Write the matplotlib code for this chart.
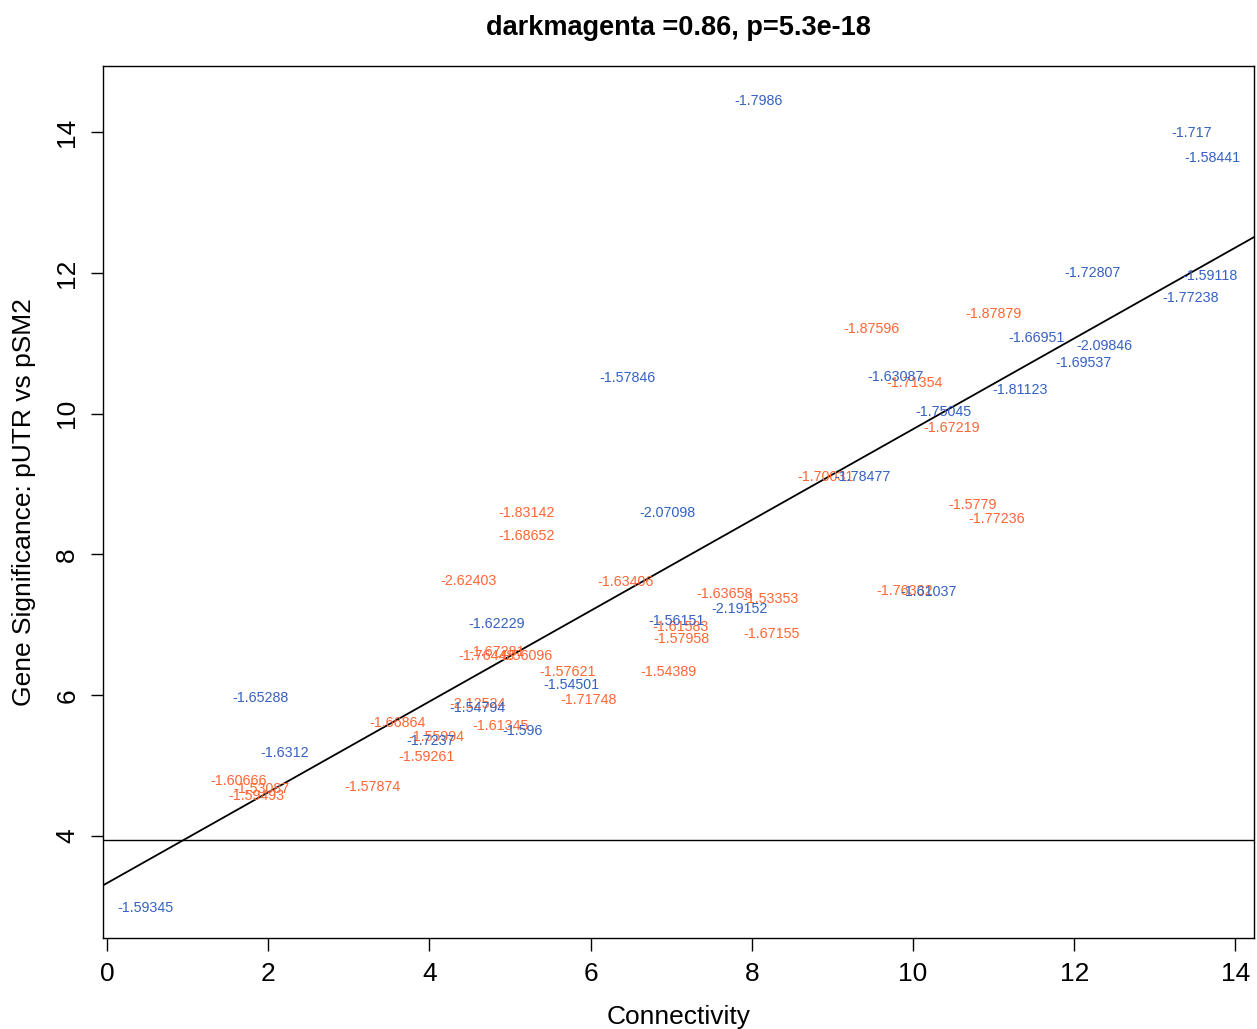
import matplotlib
matplotlib.use("Agg")
import matplotlib.pyplot as plt
import numpy as np

plt.rcParams['font.family'] = ['Liberation Sans', 'DejaVu Sans']

title = "darkmagenta =0.86, p=5.3e-18"
xlabel = "Connectivity"
ylabel = "Gene Significance: pUTR vs pSM2"

blue_labels = ["-1.7986", "-1.717", "-1.58441", "-1.72807", "-1.59118", "-1.77238",
               "-1.66951", "-2.09846", "-1.69537", "-1.81123", "-1.63087", "-1.75045",
               "-1.57846", "-1.78477", "-2.07098", "-1.61037", "-2.19152", "-1.56151",
               "-1.62229", "-1.54501", "-1.54794", "-1.596", "-1.7237", "-1.65288",
               "-1.6312", "-1.59345"]
blue_x = [8.08, 13.46, 13.72, 12.23, 13.68, 13.44, 11.53, 12.38, 12.11, 11.33, 9.78, 10.38,
          6.46, 9.37, 6.95, 10.19, 7.85, 7.07, 4.83, 5.76, 4.59, 5.16, 4.02, 1.91, 2.21, 0.48]
blue_y = [14.44, 13.99, 13.63, 12.00, 11.95, 11.64, 11.07, 10.96, 10.72, 10.34, 10.52, 10.02,
          10.51, 9.10, 8.59, 7.47, 7.22, 7.05, 7.01, 6.14, 5.82, 5.49, 5.35, 5.96, 5.18, 2.98]

orange_labels = ["-1.87596", "-1.87879", "-1.71354", "-1.67219", "-1.70031", "-1.5779",
                 "-1.77236", "-1.83142", "-1.68652", "-2.62403", "-1.63406", "-1.63658",
                 "-1.53353", "-1.76332", "-1.61583", "-1.57958", "-1.67155", "-1.54389",
                 "-1.57621", "-1.71748", "-1.76448", "-1.67281", "-1.56096", "-2.12524",
                 "-1.61345", "-1.55994", "-1.66864", "-1.59261", "-1.57874", "-1.60666",
                 "-1.53087", "-1.59493"]
orange_x = [9.48, 11.00, 10.02, 10.48, 8.92, 10.74, 11.04, 5.21, 5.21, 4.49, 6.43, 7.66,
            8.23, 9.90, 7.11, 7.13, 8.25, 6.97, 5.71, 5.97, 4.71, 4.83, 5.18, 4.60,
            4.88, 4.09, 3.60, 3.97, 3.29, 1.63, 1.92, 1.86]
orange_y = [11.20, 11.41, 10.43, 9.80, 9.10, 8.70, 8.50, 8.59, 8.26, 7.62, 7.61, 7.44,
            7.37, 7.48, 6.97, 6.80, 6.87, 6.33, 6.33, 5.93, 6.56, 6.62, 6.56, 5.88,
            5.56, 5.41, 5.61, 5.12, 4.70, 4.78, 4.67, 4.57]

fit_intercept = 3.33
fit_slope = 0.645
threshold = 3.94

xticks = [0, 2, 4, 6, 8, 10, 12, 14]
yticks = [4, 6, 8, 10, 12, 14]

fig = plt.figure(figsize=(12.57, 10.29), dpi=100)
ax = fig.add_axes([0.0819, 0.0884, 0.9157, 0.8475])
ax.set_xlim(-0.05, 14.23)
ax.set_ylim(2.55, 14.94)

blue = '#3461C1'
orange = '#FF6633'
for t, x, y in zip(orange_labels, orange_x, orange_y):
    ax.text(x, y, t, color=orange, fontsize=10.3, ha='center', va='center')
for t, x, y in zip(blue_labels, blue_x, blue_y):
    ax.text(x, y, t, color=blue, fontsize=10.3, ha='center', va='center')

xs = np.array([-0.05, 14.23])
ax.plot(xs, fit_intercept + fit_slope * xs, color='black', lw=1.3)
ax.axhline(threshold, color='black', lw=1.0)

ax.set_xticks(xticks)
ax.set_yticks(yticks)
ax.set_xticklabels([str(v) for v in xticks], fontsize=19)
ax.set_yticklabels([str(v) for v in yticks], fontsize=19, rotation=90, va='center')
ax.tick_params(direction='out', length=9, width=1, pad=8)
for s in ax.spines.values():
    s.set_linewidth(1.0)

ax.set_xlabel(xlabel, fontsize=19, labelpad=14)
ax.set_ylabel(ylabel, fontsize=19, labelpad=14)
ax.set_title(title, fontsize=19.5, fontweight='bold', pad=22)

fig.savefig("out.png", dpi=100)
